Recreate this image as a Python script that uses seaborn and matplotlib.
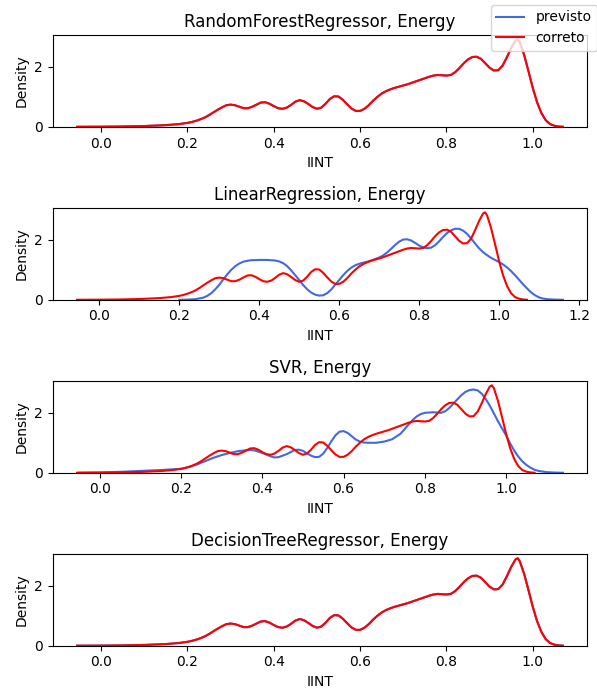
#!/usr/bin/env python3
# ============================================================================
# plot.py - densidade do IINT previsto x correto para 4 regressores
# ============================================================================

import matplotlib
matplotlib.use('Agg')
import matplotlib.pyplot as plt
import seaborn as sns

plt.rcParams['font.family'] = 'DejaVu Sans'

# ============================================================================
# DADOS (curvas de densidade)
# ============================================================================
model_names = ['RandomForestRegressor', 'LinearRegression', 'SVR', 'DecisionTreeRegressor']
target_name = 'Energy'

# valores corretos (mesma curva em todos os paineis)
x_correto = [-0.056, 0.0, 0.05, 0.10, 0.15, 0.18,
             0.20, 0.21, 0.22, 0.23, 0.24, 0.25, 0.26, 0.27, 0.28, 0.29,
             0.30, 0.31, 0.32, 0.33, 0.34, 0.35, 0.36, 0.37, 0.38, 0.39,
             0.40, 0.41, 0.42, 0.43, 0.44, 0.45, 0.46, 0.47, 0.48, 0.49,
             0.50, 0.51, 0.52, 0.53, 0.54, 0.55, 0.56, 0.57, 0.58, 0.59,
             0.60, 0.61, 0.62, 0.63, 0.64, 0.65, 0.66, 0.67, 0.68, 0.69,
             0.70, 0.71, 0.72, 0.73, 0.74, 0.75, 0.76, 0.77, 0.78, 0.79,
             0.80, 0.81, 0.82, 0.83, 0.84, 0.85, 0.86, 0.87, 0.88, 0.89,
             0.90, 0.91, 0.92, 0.93, 0.94, 0.95, 0.96, 0.965, 0.97, 0.98, 0.99,
             1.00, 1.01, 1.02, 1.03, 1.04, 1.05, 1.06, 1.07]
dens_correto = [0.0, 0.003, 0.01, 0.025, 0.055, 0.09,
                0.13, 0.16, 0.20, 0.25, 0.31, 0.39, 0.48, 0.57, 0.65, 0.72,
                0.74, 0.72, 0.67, 0.62, 0.62, 0.67, 0.74, 0.81, 0.82, 0.77,
                0.69, 0.62, 0.60, 0.64, 0.73, 0.84, 0.89, 0.85, 0.76, 0.66,
                0.60, 0.64, 0.77, 0.93, 1.02, 1.01, 0.90, 0.75, 0.61, 0.53,
                0.53, 0.60, 0.72, 0.87, 1.00, 1.11, 1.19, 1.25, 1.30, 1.34,
                1.38, 1.42, 1.47, 1.52, 1.57, 1.62, 1.67, 1.71, 1.73, 1.72,
                1.71, 1.73, 1.82, 1.96, 2.12, 2.25, 2.33, 2.34, 2.27, 2.12,
                1.97, 1.88, 1.89, 2.04, 2.32, 2.63, 2.88, 2.92, 2.82, 2.40, 1.86,
                1.30, 0.82, 0.46, 0.22, 0.09, 0.035, 0.01, 0.0]

# previsto - LinearRegression
x_prev_lr = [0.20, 0.22, 0.24, 0.26, 0.27, 0.28, 0.29,
             0.30, 0.31, 0.32, 0.33, 0.34, 0.35, 0.36, 0.37, 0.38, 0.40,
             0.42, 0.44, 0.45, 0.46, 0.47, 0.48, 0.49,
             0.50, 0.51, 0.52, 0.53, 0.54, 0.55, 0.56, 0.57, 0.58, 0.59,
             0.60, 0.61, 0.62, 0.63, 0.64, 0.65, 0.66, 0.67, 0.68, 0.69,
             0.70, 0.71, 0.72, 0.73, 0.74, 0.75, 0.76, 0.77, 0.78, 0.79,
             0.80, 0.81, 0.82, 0.83, 0.84, 0.85, 0.86, 0.87, 0.88, 0.89,
             0.90, 0.91, 0.92, 0.93, 0.94, 0.95, 0.96, 0.97, 0.98, 0.99,
             1.00, 1.01, 1.02, 1.03, 1.04, 1.05, 1.06, 1.07, 1.08, 1.09,
             1.10, 1.11, 1.12, 1.14, 1.16]
dens_prev_lr = [0.0, 0.005, 0.02, 0.07, 0.13, 0.22, 0.35,
                0.50, 0.68, 0.85, 1.00, 1.12, 1.21, 1.27, 1.30, 1.32, 1.33,
                1.33, 1.31, 1.28, 1.22, 1.12, 0.98, 0.82,
                0.66, 0.49, 0.35, 0.24, 0.17, 0.14, 0.15, 0.22, 0.34, 0.50,
                0.66, 0.82, 0.96, 1.07, 1.15, 1.20, 1.24, 1.27, 1.31, 1.36,
                1.41, 1.48, 1.58, 1.70, 1.83, 1.94, 2.01, 2.02, 1.98, 1.90,
                1.81, 1.75, 1.72, 1.74, 1.82, 1.95, 2.10, 2.23, 2.32, 2.37,
                2.37, 2.31, 2.20, 2.05, 1.88, 1.72, 1.59, 1.49, 1.40, 1.33,
                1.26, 1.18, 1.08, 0.96, 0.82, 0.67, 0.52, 0.38, 0.25, 0.15,
                0.08, 0.04, 0.02, 0.005, 0.0]

# previsto - SVR
x_prev_svr = [-0.05, 0.0, 0.05, 0.10, 0.15, 0.20, 0.22, 0.24, 0.26, 0.28,
              0.30, 0.32, 0.34, 0.36, 0.37, 0.38, 0.40, 0.42, 0.43, 0.44,
              0.46, 0.48, 0.49, 0.50, 0.51, 0.52, 0.53, 0.54, 0.55, 0.56,
              0.57, 0.58, 0.59, 0.60, 0.61, 0.62, 0.63, 0.64, 0.65, 0.66,
              0.68, 0.70, 0.72, 0.74, 0.75, 0.76, 0.77, 0.78, 0.79, 0.80,
              0.82, 0.84, 0.85, 0.86, 0.87, 0.88, 0.89, 0.90, 0.91, 0.92,
              0.93, 0.94, 0.95, 0.96, 0.97, 0.98, 0.99, 1.00, 1.01, 1.02,
              1.03, 1.04, 1.05, 1.06, 1.07, 1.08, 1.10, 1.12, 1.14]
dens_prev_svr = [0.0, 0.01, 0.03, 0.06, 0.09, 0.13, 0.19, 0.28, 0.39, 0.50,
                 0.59, 0.66, 0.72, 0.75, 0.76, 0.75, 0.66, 0.55, 0.51, 0.52,
                 0.62, 0.76, 0.77, 0.73, 0.65, 0.57, 0.52, 0.53, 0.64, 0.83,
                 1.05, 1.25, 1.37, 1.39, 1.33, 1.22, 1.11, 1.04, 1.01, 1.00,
                 1.00, 1.04, 1.12, 1.30, 1.45, 1.61, 1.76, 1.88, 1.96, 2.00,
                 2.02, 2.00, 2.05, 2.16, 2.30, 2.45, 2.59, 2.70, 2.76, 2.78,
                 2.75, 2.64, 2.46, 2.24, 1.98, 1.72, 1.48, 1.25, 0.98, 0.74,
                 0.54, 0.38, 0.26, 0.17, 0.10, 0.06, 0.02, 0.005, 0.0]

# RF e DecisionTree: previsto coincide com o correto
x_previsto = [x_correto, x_prev_lr, x_prev_svr, x_correto]
dens_previsto = [dens_correto, dens_prev_lr, dens_prev_svr, dens_correto]

color_previsto = 'royalblue'
color_correto = 'red'

# ============================================================================
# FIGURA
# ============================================================================
fig, axes = plt.subplots(4, 1, figsize=(5.97, 6.9), dpi=100)
fig.subplots_adjust(left=0.0883, right=0.9837, top=0.9493, bottom=0.0642, hspace=0.884)

for idx, ax in enumerate(axes):
    sns.lineplot(x=x_previsto[idx], y=dens_previsto[idx], ax=ax,
                 color=color_previsto, linewidth=1.5, label='previsto')
    sns.lineplot(x=x_correto, y=dens_correto, ax=ax,
                 color=color_correto, linewidth=1.5, label='correto')
    if ax.get_legend() is not None:
        ax.get_legend().remove()
    ax.set_ylim(bottom=0)
    ax.set_title(f'{model_names[idx]}, {target_name}', fontsize=12)
    ax.set_xlabel('IINT', fontsize=10)
    ax.set_ylabel('Density', fontsize=10)

handles, labels = axes[0].get_legend_handles_labels()
fig.legend(handles, labels, loc='upper right', bbox_to_anchor=(1.0, 0.993),
           borderaxespad=0, fontsize=10)

plt.savefig('out.png', dpi=100)
plt.close()
print('Saved: out.png')
